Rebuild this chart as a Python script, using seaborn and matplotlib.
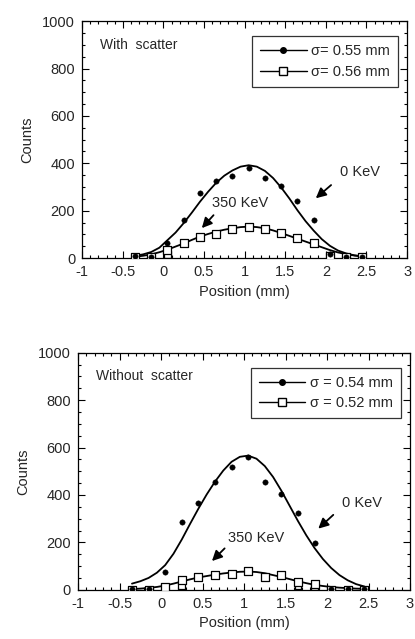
#!/usr/bin/env python3
#===============================================================================
# plot: profiles with / without scatter
#===============================================================================

# Imports ======================================================================

import matplotlib
matplotlib.use('Agg')
import matplotlib.pyplot as plt
from matplotlib.lines import Line2D
from matplotlib.ticker import MultipleLocator
import pandas as pd
import seaborn as sns


# Data =========================================================================

point_x = [-0.35, -0.15, 0.05, 0.25, 0.45, 0.65, 0.85, 1.05, 1.25, 1.45,
           1.65, 1.85, 2.05, 2.25, 2.45]

curve_x = [-0.35, -0.25, -0.15, -0.05, 0.05, 0.15, 0.25, 0.35, 0.45, 0.55,
           0.65, 0.75, 0.85, 0.95, 1.05, 1.15, 1.25, 1.35, 1.45, 1.55,
           1.65, 1.75, 1.85, 1.95, 2.05, 2.15, 2.25, 2.35, 2.45]

# with scatter
top_dots = [10, 6, 65, 163, 276, 326, 347, 382, 340, 304, 242, 160, 17, 6, 6]
top_squares = [5, 3, 34, 62, 90, 101, 122, 132, 125, 107, 87, 65, 8, 3, 3]
top_extra_x = [0.05]
top_extra_sq = [14]
top_fit_0 = [10, 16, 26, 44, 76, 108, 148, 192, 238, 280, 318, 348, 370, 386,
             392, 386, 368, 338, 298, 252, 202, 156, 116, 80, 52, 32, 20, 12, 8]
top_fit_350 = [6, 10, 16, 25, 36, 49, 62, 77, 91, 102, 112, 120, 126, 131,
               133, 131, 126, 117, 106, 94, 82, 70, 58, 46, 34, 24, 17, 11, 7]

# without scatter
bot_dots = [2, 2, 76, 287, 368, 455, 520, 562, 455, 405, 322, 196, 2, 2, 2]
bot_squares = [0, 0, 12, 43, 52, 64, 66, 81, 53, 62, 32, 26, 0, 0, 0]
bot_extra_x = [0.25, 1.65, 1.85]
bot_extra_sq = [16, 18, 14]
bot_fit_0 = [26, 36, 50, 72, 104, 152, 212, 278, 342, 402, 456, 503, 540, 561,
             566, 553, 522, 476, 418, 354, 290, 230, 176, 130, 92, 62, 40, 24, 14]
bot_fit_350 = [3, 5, 8, 12, 18, 26, 35, 44, 52, 58, 64, 69, 73, 76,
               77, 75, 70, 62, 54, 45, 36, 28, 21, 16, 12, 9, 7, 5, 4]

panels = [
    {
        'title': 'With  scatter',
        'dots': top_dots, 'squares': top_squares,
        'extra_x': top_extra_x, 'extra_sq': top_extra_sq,
        'fit_0': top_fit_0, 'fit_350': top_fit_350,
        'labels': ('\u03c3= 0.55 mm', '\u03c3= 0.56 mm'),
        'kev0': ((2.42, 363), (2.09, 316), (1.85, 245)),
        'kev350': ((0.95, 232), (0.64, 190), (0.45, 118)),
        'rect': [0.198, 0.596, 0.783, 0.371],
    },
    {
        'title': 'Without  scatter',
        'dots': bot_dots, 'squares': bot_squares,
        'extra_x': bot_extra_x, 'extra_sq': bot_extra_sq,
        'fit_0': bot_fit_0, 'fit_350': bot_fit_350,
        'labels': ('\u03c3 = 0.54 mm', '\u03c3 = 0.52 mm'),
        'kev0': ((2.42, 368), (2.10, 324), (1.87, 250)),
        'kev350': ((1.15, 218), (0.79, 183), (0.59, 113)),
        'rect': [0.188, 0.077, 0.800, 0.371],
    },
]


# Functions ====================================================================

def draw_panel(fig, p):
    ax = fig.add_axes(p['rect'])
    curves = pd.DataFrame({'x': curve_x, 'fit0': p['fit_0'], 'fit350': p['fit_350']})
    points = pd.DataFrame({'x': point_x, 'dots': p['dots'], 'squares': p['squares']})
    extra = pd.DataFrame({'x': p['extra_x'], 'sq': p['extra_sq']})

    sns.lineplot(data=curves, x='x', y='fit0', color='black', lw=1.3, ax=ax)
    sns.lineplot(data=curves, x='x', y='fit350', color='black', lw=1.3, ax=ax)
    sns.scatterplot(data=extra, x='x', y='sq', marker='s', s=24,
                    facecolor='none', edgecolor='black', linewidth=0.9, ax=ax,
                    zorder=3)
    sns.scatterplot(data=points, x='x', y='squares', marker='s', s=28,
                    facecolor='white', edgecolor='black', linewidth=0.9, ax=ax,
                    zorder=4)
    sns.scatterplot(data=points, x='x', y='dots', marker='o', s=15,
                    color='black', edgecolor='black', ax=ax, zorder=5)

    ax.set_xlim(-1, 3)
    ax.set_ylim(0, 1000)
    ax.xaxis.set_major_locator(MultipleLocator(0.5))
    ax.xaxis.set_minor_locator(MultipleLocator(0.1))
    ax.yaxis.set_major_locator(MultipleLocator(200))
    ax.yaxis.set_minor_locator(MultipleLocator(50))
    ax.set_xticks([-1, -0.5, 0, 0.5, 1, 1.5, 2, 2.5, 3])
    ax.set_xticklabels(['-1', '-0.5', '0', '0.5', '1', '1.5', '2', '2.5', '3'])
    ax.tick_params(which='both', direction='in', top=True, right=True,
                   labelsize=10.5, color='black', width=0.8)
    ax.tick_params(which='major', length=5, pad=5)
    ax.tick_params(which='minor', length=2.5)
    for s in ax.spines.values():
        s.set_color('black')
        s.set_linewidth(0.9)
    ax.set_xlabel('Position (mm)', fontsize=10.5, labelpad=4)
    ax.set_ylabel('Counts', fontsize=10.5, labelpad=6)

    ax.text(0.055, 0.9, p['title'], transform=ax.transAxes, fontsize=10,
            ha='left', va='center')

    arrow = dict(arrowstyle='-|>', color='black', lw=1.3, mutation_scale=15)
    txt, start, end = p['kev0']
    ax.annotate('', xy=end, xytext=start, arrowprops=arrow)
    ax.text(txt[0], txt[1], '0 KeV', fontsize=10.5, ha='center', va='center')
    txt, start, end = p['kev350']
    ax.annotate('', xy=end, xytext=start, arrowprops=arrow)
    ax.text(txt[0], txt[1], '350 KeV', fontsize=10.5, ha='center', va='center')

    handles = [
        Line2D([], [], color='black', lw=1.0, marker='o', markersize=4,
               markerfacecolor='black'),
        Line2D([], [], color='black', lw=1.0, marker='s', markersize=5.5,
               markerfacecolor='white'),
    ]
    leg = ax.legend(handles, p['labels'], loc='upper right',
                    bbox_to_anchor=(0.985, 0.955), fontsize=10.5,
                    frameon=True, fancybox=False, handlelength=3.2,
                    handletextpad=0.3, borderpad=0.55, labelspacing=0.45,
                    borderaxespad=0.3)
    leg.get_frame().set_edgecolor('black')
    leg.get_frame().set_linewidth(0.9)
    return ax


def main():
    sns.set_theme(style='ticks')
    plt.rcParams['font.family'] = ['Liberation Sans', 'DejaVu Sans']
    fig = plt.figure(figsize=(4.15, 6.39), dpi=100)
    for p in panels:
        draw_panel(fig, p)
    fig.savefig('out.png', dpi=100, facecolor='white')


# Execute ======================================================================

if __name__ == '__main__':
    main()
